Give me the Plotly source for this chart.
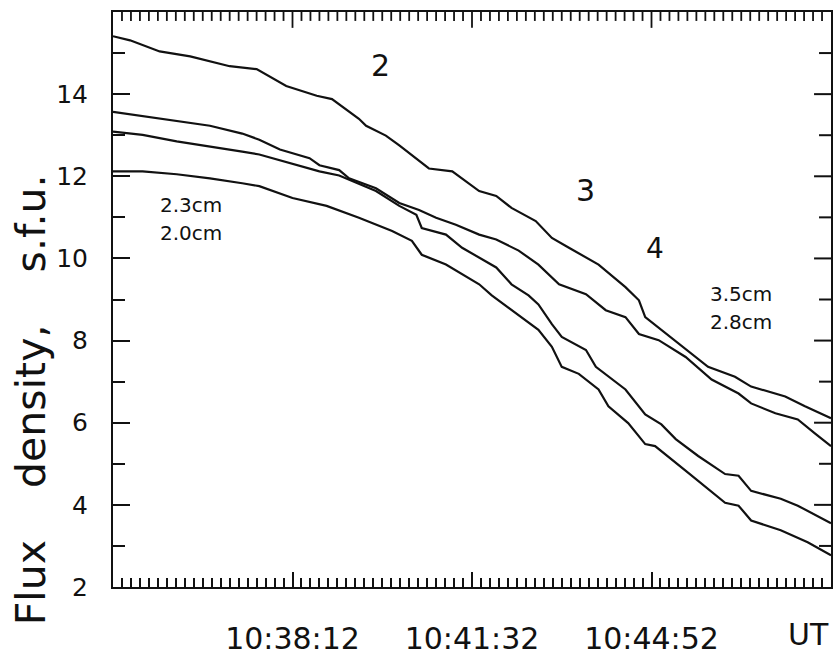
import plotly.graph_objects as go

# Time in seconds after 10:34:52 UT
t_a = [0, 19, 52, 86, 130, 160, 193, 227, 244, 274, 282, 304, 319, 341, 352, 378, 408, 427, 444, 471,
       489, 508, 541, 571, 586, 593, 611, 630, 663, 693, 711, 749, 771, 800]
flux_a = [15.41, 15.31, 15.04, 14.92, 14.68, 14.61, 14.20, 13.96, 13.88, 13.40, 13.23, 12.99, 12.75, 12.39,
          12.19, 12.12, 11.64, 11.52, 11.23, 10.91, 10.50, 10.26, 9.85, 9.30, 8.98, 8.57, 8.26, 7.92, 7.36,
          7.12, 6.88, 6.64, 6.40, 6.11]

t_b = [0, 33, 71, 108, 144, 163, 186, 219, 230, 252, 263, 293, 319, 341, 360, 382, 408, 427, 452, 474,
       497, 527, 549, 571, 586, 608, 638, 667, 697, 711, 738, 763, 782, 800]
flux_b = [13.57, 13.47, 13.35, 13.23, 13.04, 12.89, 12.65, 12.44, 12.27, 12.15, 11.95, 11.71, 11.35, 11.18,
          10.99, 10.82, 10.58, 10.46, 10.19, 9.85, 9.37, 9.13, 8.74, 8.57, 8.16, 8.01, 7.60, 7.05, 6.71,
          6.47, 6.23, 6.08, 5.74, 5.43]

t_c = [0, 33, 71, 108, 144, 163, 200, 230, 252, 267, 293, 319, 338, 344, 371, 389, 408, 427, 444, 463,
       474, 489, 500, 527, 538, 571, 593, 611, 627, 652, 682, 697, 711, 744, 763, 800]
flux_c = [13.09, 13.01, 12.85, 12.73, 12.60, 12.53, 12.31, 12.12, 12.02, 11.88, 11.64, 11.28, 11.06, 10.74,
          10.58, 10.26, 10.02, 9.78, 9.37, 9.10, 8.88, 8.40, 8.09, 7.77, 7.36, 6.81, 6.20, 5.96, 5.60,
          5.19, 4.75, 4.71, 4.34, 4.15, 3.98, 3.55]

t_d = [0, 33, 71, 108, 144, 163, 200, 238, 274, 297, 311, 333, 344, 371, 389, 408, 422, 452, 474, 489,
       500, 519, 541, 552, 574, 593, 604, 641, 656, 682, 697, 711, 744, 774, 800]
flux_d = [12.12, 12.12, 12.05, 11.95, 11.83, 11.76, 11.47, 11.28, 10.99, 10.79, 10.67, 10.43, 10.09, 9.85,
          9.61, 9.37, 9.10, 8.62, 8.26, 7.85, 7.36, 7.19, 6.81, 6.40, 5.99, 5.48, 5.43, 4.78, 4.51, 4.05,
          3.98, 3.62, 3.38, 3.09, 2.77]

time_ticks = [200, 400, 600]
time_labels = ["10:38:12", "10:41:32", "10:44:52"]
flux_ticks = [2, 4, 6, 8, 10, 12, 14]

T_RANGE = [0, 800]
F_RANGE = [2, 16]
minor_time = list(range(T_RANGE[0] + 10, T_RANGE[1], 10))
minor_flux = list(range(F_RANGE[0] + 1, F_RANGE[1], 1))

INK = "#111111"
FONT = "DejaVu Sans"

W, H = 835, 658
MARGIN = dict(l=113, r=2, t=12, b=66)
# pixel size of one data unit, used for the tick marks on the top and right edges
px_per_s = (W - MARGIN["l"] - MARGIN["r"]) / (T_RANGE[1] - T_RANGE[0])
px_per_flux = (H - MARGIN["t"] - MARGIN["b"]) / (F_RANGE[1] - F_RANGE[0])

fig = go.Figure()
for t, f in [(t_a, flux_a), (t_b, flux_b), (t_c, flux_c), (t_d, flux_d)]:
    fig.add_trace(go.Scatter(x=t, y=f, mode="lines",
                             line=dict(color=INK, width=2.2), showlegend=False,
                             hoverinfo="skip"))

# inward tick marks along the top edge
top_x, top_y = [], []
for t in minor_time:
    length = (16 if t in time_ticks else 9) / px_per_flux
    top_x += [t, t, None]
    top_y += [F_RANGE[1], F_RANGE[1] - length, None]
fig.add_trace(go.Scatter(x=top_x, y=top_y, mode="lines", line=dict(color=INK, width=1.8),
                         showlegend=False, hoverinfo="skip"))

# inward tick marks along the right edge
right_x, right_y = [], []
for v in minor_flux:
    length = (17 if v in flux_ticks else 12) / px_per_s
    right_x += [T_RANGE[1], T_RANGE[1] - length, None]
    right_y += [v, v, None]
fig.add_trace(go.Scatter(x=right_x, y=right_y, mode="lines", line=dict(color=INK, width=2),
                         showlegend=False, hoverinfo="skip"))

annotations = [
    dict(text="Flux    density,    s.f.u.", xref="paper", yref="paper", x=-0.114, y=0.325,
         textangle=-90, showarrow=False, font=dict(family=FONT, size=41, color=INK),
         xanchor="center", yanchor="middle"),
    dict(text="UT", xref="paper", yref="paper", x=1.0, y=-0.083, showarrow=False,
         xanchor="right", yanchor="middle", font=dict(family=FONT, size=30, color=INK)),
    dict(text="2", x=298, y=14.7, showarrow=False, font=dict(family=FONT, size=30, color=INK)),
    dict(text="3", x=526, y=11.66, showarrow=False, font=dict(family=FONT, size=30, color=INK)),
    dict(text="4", x=604, y=10.24, showarrow=False, font=dict(family=FONT, size=28, color=INK)),
    dict(text="2.3cm", x=87, y=11.30, showarrow=False, font=dict(family=FONT, size=20, color=INK)),
    dict(text="2.0cm", x=87, y=10.62, showarrow=False, font=dict(family=FONT, size=20, color=INK)),
    dict(text="3.5cm", x=700, y=9.13, showarrow=False, font=dict(family=FONT, size=20, color=INK)),
    dict(text="2.8cm", x=700, y=8.45, showarrow=False, font=dict(family=FONT, size=20, color=INK)),
]

fig.update_layout(
    width=W, height=H,
    margin=MARGIN,
    paper_bgcolor="white", plot_bgcolor="white",
    xaxis=dict(range=T_RANGE, tickmode="array", tickvals=time_ticks, ticktext=time_labels,
               ticks="inside", ticklen=15, tickwidth=2, tickcolor=INK,
               showline=True, linewidth=2, linecolor=INK, mirror=True,
               showgrid=False, zeroline=False,
               minor=dict(tickmode="linear", tick0=0, dtick=10, ticks="inside", ticklen=9,
                          tickwidth=1.6, tickcolor=INK, showgrid=False),
               tickfont=dict(family=FONT, size=30, color=INK), ticklabelstandoff=24),
    yaxis=dict(range=F_RANGE, tickmode="array", tickvals=flux_ticks,
               ticks="inside", ticklen=17, tickwidth=2, tickcolor=INK,
               showline=True, linewidth=2, linecolor=INK, mirror=True,
               showgrid=False, zeroline=False,
               minor=dict(tickmode="linear", tick0=2, dtick=1, ticks="inside", ticklen=12,
                          tickwidth=2, tickcolor=INK, showgrid=False),
               tickfont=dict(family=FONT, size=25, color=INK), ticklabelstandoff=18),
    annotations=annotations,
)

fig.write_html("out.html")
